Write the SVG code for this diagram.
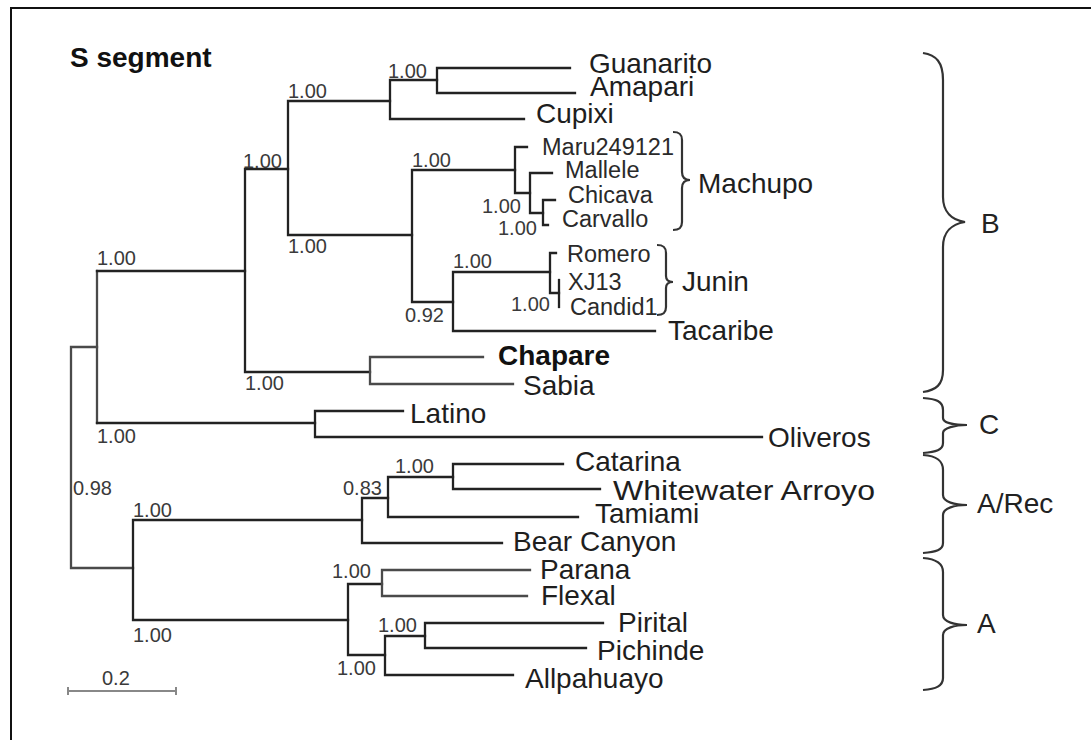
<svg xmlns="http://www.w3.org/2000/svg" width="1091" height="740" viewBox="0 0 1091 740">
  <style>
    .frame { stroke: #111; stroke-width: 2; fill: none; }
    .br { stroke: #222; stroke-width: 2.3; fill: none; stroke-linecap: square; }
    .br2 { stroke: #4a4a4a; stroke-width: 2.3; fill: none; stroke-linecap: square; }
    .brace { stroke: #333; stroke-width: 2.2; fill: none; }
    .taxon { font-family: "Liberation Sans", Arial, sans-serif; font-size: 28px; fill: #1e1e1e; }
    .small { font-family: "Liberation Sans", Arial, sans-serif; font-size: 23.5px; fill: #2a2a2a; }
    .bold { font-family: "Liberation Sans", Arial, sans-serif; font-size: 28px; font-weight: bold; fill: #111; }
    .boot { font-family: "Liberation Sans", Arial, sans-serif; font-size: 20px; fill: #3a3a3a; }
    .clade { font-family: "Liberation Sans", Arial, sans-serif; font-size: 28px; fill: #222; }
    .scale { stroke: #888; stroke-width: 2; fill: none; }
  </style>

  <rect width="1091" height="740" fill="#ffffff"/>
  <!-- panel border: top and left edges -->
  <path class="frame" d="M11,740 L11,8 L1091,8"/>

  <text id="title" class="bold" x="70" y="67">S segment</text>

  <!-- tree branches -->
  <g id="branches">
    <path class="br2" d="M71,347 L71,568 M71,347 L97,347 M71,568 L133,568"/>
    <path class="br2" d="M97,271 L97,423"/>
    <path class="br" d="M97,271 L245,271 M97,423 L315,423"/>
    <path class="br" d="M245,169 L245,372 M245,169 L288,169 M245,372 L370,372"/>
    <path class="br" d="M288,101 L288,235 M288,101 L390,101 M288,235 L412,235"/>
    <path class="br" d="M390,80 L390,119 M390,80 L437,80 M390,119 L524,119"/>
    <path class="br" d="M437,68 L437,93 M437,68 L570,68 M437,93 L575,93"/>
    <path class="br" d="M412,170 L412,302 M412,170 L515,170 M412,302 L453,302"/>
    <path class="br" d="M515,147 L515,193 M515,147 L527,147 M515,193 L530,193"/>
    <path class="br" d="M530,173 L530,213 M530,173 L552,173 M530,213 L543,213"/>
    <path class="br" d="M543,200 L543,225 M543,200 L555,200 M543,225 L548,225"/>
    <path class="br" d="M453,272 L453,331 M453,272 L550,272 M453,331 L655,331"/>
    <path class="br" d="M550,253 L550,293 M550,253 L556,253 M550,293 L559,293"/>
    <path class="br" d="M559,280 L559,307"/>
    <path class="br2" d="M370,357 L370,384 M370,357 L483,357 M370,384 L513,384"/>
    <path class="br" d="M315,411 L315,437 M315,411 L403,411 M315,437 L762,437"/>
    <path class="br" d="M133,520 L133,620 M133,520 L362,520 M133,620 L348,620"/>
    <path class="br" d="M362,498 L362,543 M362,498 L388,498 M362,543 L502,543"/>
    <path class="br" d="M388,477 L388,517 M388,477 L453,477 M388,517 L578,517"/>
    <path class="br" d="M453,464 L453,489 M453,464 L563,464 M453,489 L600,489"/>
    <path class="br" d="M348,584 L348,655 M348,584 L382,584 M348,655 L385,655"/>
    <path class="br2" d="M382,570 L382,596 M382,570 L530,570 M382,596 L527,596"/>
    <path class="br" d="M385,636 L385,675 M385,636 L425,636 M385,675 L513,675"/>
    <path class="br" d="M425,623 L425,648 M425,623 L603,623 M425,648 L586,648"/>
  </g>

  <!-- support values -->
  <g id="support">
    <text class="boot" x="388" y="78">1.00</text>
    <text class="boot" x="288" y="98">1.00</text>
    <text class="boot" x="243" y="168">1.00</text>
    <text class="boot" x="412" y="167">1.00</text>
    <text class="boot" x="482" y="213">1.00</text>
    <text class="boot" x="498" y="235">1.00</text>
    <text class="boot" x="288" y="253">1.00</text>
    <text class="boot" x="97" y="265">1.00</text>
    <text class="boot" x="453" y="268">1.00</text>
    <text class="boot" x="511" y="311">1.00</text>
    <text class="boot" x="405" y="322">0.92</text>
    <text class="boot" x="245" y="390">1.00</text>
    <text class="boot" x="97" y="443">1.00</text>
    <text class="boot" x="395" y="473">1.00</text>
    <text class="boot" x="73" y="495">0.98</text>
    <text class="boot" x="343" y="495">0.83</text>
    <text class="boot" x="133" y="517">1.00</text>
    <text class="boot" x="332" y="578">1.00</text>
    <text class="boot" x="378" y="632">1.00</text>
    <text class="boot" x="133" y="642">1.00</text>
    <text class="boot" x="337" y="675">1.00</text>
  </g>

  <!-- taxa -->
  <g id="guanarito"><text class="taxon" x="589" y="73">Guanarito</text></g>
  <g id="amapari"><text class="taxon" x="590" y="96">Amapari</text></g>
  <g id="cupixi"><text class="taxon" x="536" y="123">Cupixi</text></g>
  <g id="maru249121"><text class="small" x="542" y="155">Maru249121</text></g>
  <g id="mallele"><text class="small" x="565" y="178">Mallele</text></g>
  <g id="chicava"><text class="small" x="568" y="203">Chicava</text></g>
  <g id="carvallo"><text class="small" x="562" y="227">Carvallo</text></g>
  <g id="romero"><text class="small" x="567" y="262">Romero</text></g>
  <g id="xj13"><text class="small" x="568" y="290">XJ13</text></g>
  <g id="candid1"><text class="small" x="570" y="315">Candid1</text></g>
  <g id="tacaribe"><text class="taxon" x="668" y="340">Tacaribe</text></g>
  <g id="chapare"><text class="bold" x="498" y="365">Chapare</text></g>
  <g id="sabia"><text class="taxon" x="523" y="395">Sabia</text></g>
  <g id="latino"><text class="taxon" x="410" y="423">Latino</text></g>
  <g id="oliveros"><text class="taxon" x="768" y="447">Oliveros</text></g>
  <g id="catarina"><text class="taxon" x="575" y="471">Catarina</text></g>
  <g id="whitewater-arroyo"><text class="taxon" x="613" y="500" textLength="262" lengthAdjust="spacingAndGlyphs">Whitewater Arroyo</text></g>
  <g id="tamiami"><text class="taxon" x="595" y="523">Tamiami</text></g>
  <g id="bear-canyon"><text class="taxon" x="513" y="551">Bear Canyon</text></g>
  <g id="parana"><text class="taxon" x="540" y="579">Parana</text></g>
  <g id="flexal"><text class="taxon" x="541" y="605">Flexal</text></g>
  <g id="pirital"><text class="taxon" x="618" y="632">Pirital</text></g>
  <g id="pichinde"><text class="taxon" x="597" y="660">Pichinde</text></g>
  <g id="allpahuayo"><text class="taxon" x="525" y="688">Allpahuayo</text></g>

  <!-- species groupings -->
  <g id="machupo">
    <path class="brace" d="M673,132 C679,132 682,134 682,140 L682,172 C682,177 685,180 690,180 C685,180 682,183 682,188 L682,222 C682,228 679,230 673,230"/>
    <text class="taxon" x="698" y="193">Machupo</text>
  </g>
  <g id="junin">
    <path class="brace" d="M657,245 C663,245 666,247 666,253 L666,276 C666,280 669,282 673,282 C669,282 666,284 666,288 L666,307 C666,313 663,315 657,315"/>
    <text class="taxon" x="682" y="291">Junin</text>
  </g>

  <!-- lineage braces -->
  <g id="lineage-b">
    <path class="brace" d="M923,53 C936,55 943,62 943,80 L943,197 C943,212 952,220 965,222 C952,224 943,232 943,247 L943,370 C943,385 936,390 923,392"/>
    <text class="clade" x="981" y="233">B</text>
  </g>
  <g id="lineage-c">
    <path class="brace" d="M923,398 C936,399 943,401 943,410 L943,418 C943,423 955,425 967,425 C955,425 943,428 943,433 L943,443 C943,450 936,452 923,453"/>
    <text class="clade" x="979" y="434">C</text>
  </g>
  <g id="lineage-arec">
    <path class="brace" d="M923,455 C936,456 943,460 943,470 L943,495 C943,502 955,505 967,505 C955,505 943,508 943,515 L943,543 C943,550 936,552 923,553"/>
    <text class="clade" x="977" y="513">A/Rec</text>
  </g>
  <g id="lineage-a">
    <path class="brace" d="M923,558 C936,559 943,563 943,572 L943,615 C943,622 955,625 967,625 C955,625 943,628 943,635 L943,678 C943,686 936,689 923,690"/>
    <text class="clade" x="977" y="633">A</text>
  </g>

  <!-- scale bar -->
  <g id="scale-bar">
    <path class="scale" d="M68,691 L176,691 M68,687 L68,695 M176,687 L176,695"/>
    <text class="boot" x="102" y="685" fill="#555">0.2</text>
  </g>
</svg>
